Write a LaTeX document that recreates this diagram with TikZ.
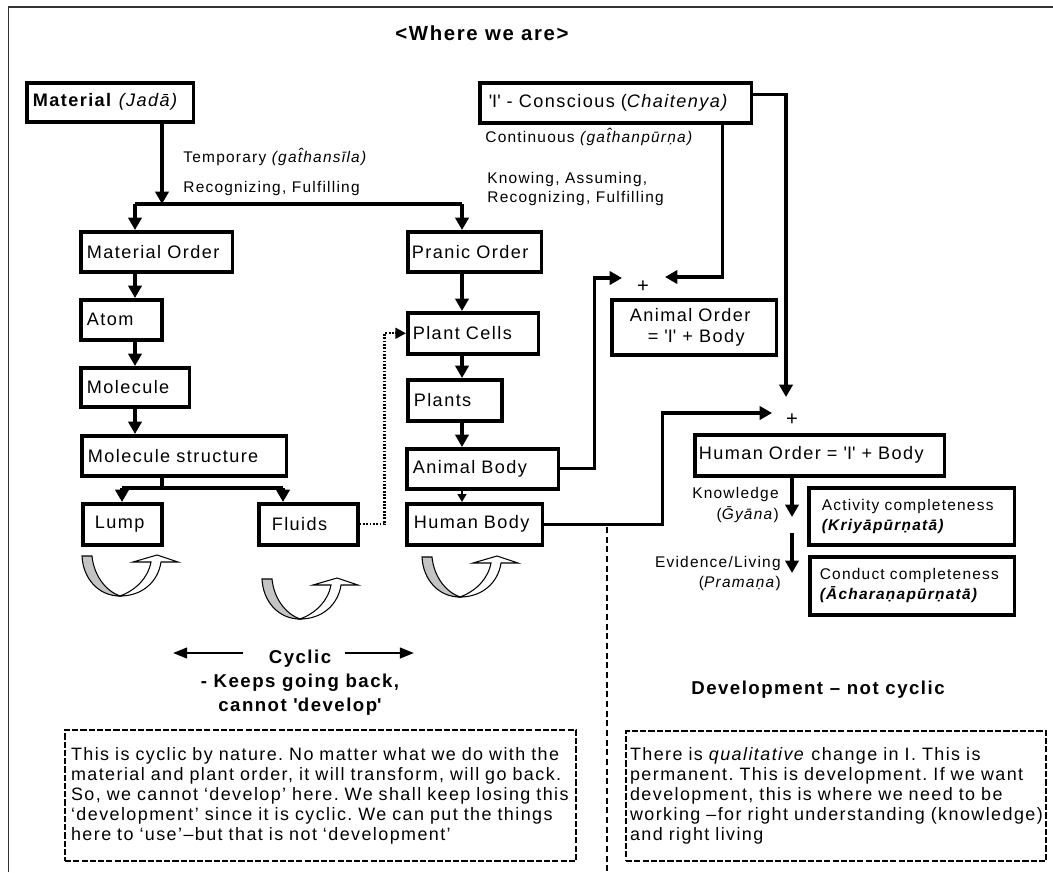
\documentclass[tikz,border=0pt]{standalone}
\usepackage{fontspec}
\setmainfont{Liberation Sans}[LetterSpace=8]
\usetikzlibrary{arrows.meta}
\definecolor{armgray}{RGB}{196,196,196}
\newcommand{\sqt}{\textquotesingle}

\begin{document}
\frenchspacing
\begin{tikzpicture}[x=0.02cm, y=-0.02cm,
    box/.style={draw, line width=2pt, anchor=north west, align=left, inner xsep=0.12cm, inner ysep=0pt, font=\fontsize{10.3}{12}\selectfont},
    lbl/.style={inner sep=0pt, align=left, font=\fontsize{8.8}{10.6}\selectfont},
    arr/.style={line width=1.9pt, -{Triangle[length=7pt,width=7.5pt]}},
    link/.style={line width=1.9pt},
    note/.style={draw, line width=1.2pt, dash pattern=on 3.5pt off 1.2pt, anchor=north west, align=left, inner xsep=0.12cm, font=\fontsize{10.2}{11.4}\selectfont},
    heading/.style={align=center, font=\bfseries\fontsize{10.6}{13.7}\selectfont},
    arm/.style={draw, line width=0.6pt, fill=armgray},
    armw/.style={draw, line width=0.6pt, fill=white}]
    \useasboundingbox (0,0) rectangle (1053,872);

    % Frame
    \draw[line width=0.85pt, black!80] (8.5,872) -- (8.5,7) -- (1053,7);

    % Title
    \node[heading, font=\bfseries\fontsize{11.6}{12}\selectfont] (title) at (482,33) {<Where we are>};

    % Two roots
    \node[box, minimum width=3.34cm, minimum height=0.78cm, text width=3.10cm] (mat) at (25,81) {\textbf{Material} \textit{(Jad\=a)}};
    \node[box, minimum width=5.44cm, minimum height=0.8cm, inner xsep=0.18cm, text width=5.08cm] (con) at (478,81) {\sqt I\sqt{} - Conscious (\textit{Chaitenya)}};

    \node[lbl, anchor=west] (temp) at (183,157) {Temporary \textit{(gat^^^^0302hans\={\i}la)}};
    \node[lbl, anchor=west] (recog) at (183,188) {Recognizing, Fulfilling};
    \node[lbl, anchor=west] (cont) at (485,137) {Continuous \textit{(gat^^^^0302hanp\=urn^^^^0323a)}};
    \node[lbl, anchor=west] (knowing) at (487,189) {Knowing, Assuming,\\Recognizing, Fulfilling};

    % Material order column
    \node[box, minimum width=3.04cm, minimum height=0.8cm, text width=2.80cm] (matorder) at (79,230) {Material Order};
    \node[box, minimum width=1.62cm, minimum height=0.8cm, text width=1.38cm] (atom) at (79,298) {Atom};
    \node[box, minimum width=2.18cm, minimum height=0.78cm, text width=1.94cm] (molecule) at (79,366) {Molecule};
    \node[box, minimum width=4.10cm, minimum height=0.8cm, text width=3.86cm] (molstruct) at (80,434) {Molecule structure};
    \node[box, minimum width=1.58cm, minimum height=0.82cm, inner xsep=0.24cm, text width=1.10cm] (lump) at (81,502) {Lump};
    \node[box, minimum width=1.98cm, minimum height=0.82cm, inner xsep=0.26cm, text width=1.46cm] (fluids) at (257,502) {Fluids};

    % Pranic order column
    \node[box, minimum width=2.68cm, minimum height=0.8cm, inner xsep=0.08cm, text width=2.52cm] (pranic) at (406,230) {Pranic Order};
    \node[box, minimum width=2.62cm, minimum height=0.82cm, inner xsep=0.1cm, text width=2.42cm] (cells) at (406,311) {Plant Cells};
    \node[box, minimum width=1.88cm, minimum height=0.82cm, text width=1.64cm] (plants) at (406,378) {Plants};
    \node[box, minimum width=3.04cm, minimum height=0.8cm, text width=2.80cm] (animalbody) at (405,447) {Animal Body};
    \node[box, minimum width=2.72cm, minimum height=0.82cm, inner xsep=0.14cm, text width=2.44cm] (humanbody) at (405,502) {Human Body};

    % Orders with 'I'
    \node[font=\fontsize{11.5}{11}\selectfont, inner sep=0pt] (aplus) at (643,287) {+};
    \node[box, minimum width=3.30cm, minimum height=1.10cm, inner xsep=0.36cm, text width=2.58cm] (animalorder) at (610,298) {Animal Order\\\quad= \sqt I\sqt{} + Body};
    \node[font=\fontsize{11.5}{11}\selectfont, inner sep=0pt] (hplus) at (792,420) {+};
    \node[box, minimum width=5.00cm, minimum height=0.82cm, inner xsep=0.08cm, text width=4.84cm] (humanorder) at (693,433) {Human Order = \sqt I\sqt{} + Body};
    \node[box, font=\fontsize{8.8}{11.4}\selectfont, minimum width=4.12cm, minimum height=1.14cm, inner xsep=0.26cm, text width=3.60cm] (activity) at (807,486) {Activity completeness\\\textbf{\textit{(Kriy\=ap\=urn^^^^0323at\=a)}}};
    \node[box, font=\fontsize{8.8}{11.4}\selectfont, minimum width=4.10cm, minimum height=1.16cm, inner xsep=0.2cm, text width=3.70cm] (conduct) at (808,555) {Conduct completeness\\\textbf{\textit{(\=Acharan^^^^0323ap\=urn^^^^0323at\=a)}}};
    \node[lbl, anchor=east, align=right, font=\fontsize{8.8}{11.4}\selectfont] (knowl) at (779,505) {Knowledge\\(\textit{G^^^^0304y\=ana})};
    \node[lbl, anchor=east, align=right, font=\fontsize{8.8}{11.4}\selectfont] (evid) at (781,573) {Evidence/Living\\(\textit{Praman^^^^0323a})};

    % Junctions
    \coordinate (split) at (162,204);
    \coordinate (splitL) at (135,204);
    \coordinate (splitR) at (462,204);
    \coordinate (branch) at (162,488);
    \coordinate (branchL) at (122,488);
    \coordinate (branchR) at (283,488);
    \coordinate (aplusL) at (622,278);
    \coordinate (aplusR) at (665,277);
    \coordinate (hplusT) at (786,397);
    \coordinate (hplusL) at (772,413);
    \coordinate (know1) at (792,517);
    \coordinate (evid0) at (792,533);
    \coordinate (evid1) at (792,573);

    % Material splits in two
    \draw[arr] (mat.south -| split) -- (split);
    \draw[link] (splitL) -- (splitR);
    \draw[arr] (splitL) -- (splitL |- matorder.north);
    \draw[arr] (splitR) -- (splitR |- pranic.north);

    \draw[arr] (matorder.south -| splitL) -- (atom.north -| splitL);
    \draw[arr] (atom.south -| splitL) -- (molecule.north -| splitL);
    \draw[arr] (molecule.south -| splitL) -- (molstruct.north -| splitL);
    \draw[link] (molstruct.south -| branch) -- (branch);
    \draw[link] (branchL) -- (branchR);
    \draw[arr] (branchL) -- (branchL |- lump.north);
    \draw[arr] (branchR) -- (branchR |- fluids.north);

    \draw[arr] (pranic.south -| splitR) -- (cells.north -| splitR);
    \draw[arr] (cells.south -| splitR) -- (plants.north -| splitR);
    \draw[arr] (plants.south -| splitR) -- (animalbody.north -| splitR);
    \draw[line width=1pt, -{Triangle[length=4.5pt,width=5pt]}] (animalbody.south -| splitR) -- (humanbody.north -| splitR);

    % Fluids feed plant cells
    \draw[line width=1.4pt, dash pattern=on 1pt off 0.9pt, -{Triangle[length=6pt,width=6pt]}] (fluids.east) -- ++(25,0) |- (cells.west);

    % Bodies meet 'I'
    \draw[arr] (animalbody.east) -- ++(34,0) |- (aplusL);
    \draw[arr] ([xshift=-0.62cm]con.south east) |- (aplusR);
    \draw[arr] ([yshift=0.16cm]con.east) -| (hplusT);
    \draw[arr] (humanbody.east) -- ++(118,0) |- (hplusL);

    \draw[arr] (humanorder.south -| know1) -- (know1);
    \draw[arr] (evid0) -- (evid1);

    % Cyclic arrows under the boxes
    \foreach \bx/\by in {120/596, 300/619, 460/597} {
        \begin{scope}[shift={(\bx,\by)}]
            \filldraw[arm] (0,0) .. controls (-22,0) and (-37,-18) .. (-38,-40) -- (-28,-40) .. controls (-26,-20) and (-14,-5) .. (0,0) -- cycle;
            \filldraw[armw] (0,0) .. controls (16,-6) and (28,-18) .. (31,-34) -- (13,-34) -- (37,-41) -- (58,-34) -- (41,-34) .. controls (38,-14) and (22,0) .. (0,0) -- cycle;
        \end{scope}
    }

    % Cyclic side
    \coordinate (cycL0) at (243,653);
    \coordinate (cycL1) at (173,653);
    \coordinate (cycR0) at (345,653);
    \coordinate (cycR1) at (414,653);
    \draw[line width=1.3pt, -{Triangle[length=8pt,width=6pt]}] (cycL0) -- (cycL1);
    \draw[line width=1.3pt, -{Triangle[length=8pt,width=6pt]}] (cycR0) -- (cycR1);
    \node[heading] (cyclic) at (300,683) {Cyclic\\- Keeps going back,\\cannot \sqt develop\sqt};
    \node[note, minimum width=10.22cm, minimum height=2.62cm, text width=9.98cm] (cnote) at (64,729)
        {This is cyclic by nature. No matter what we do with the\\material and plant order, it will transform, will go back.\\So, we cannot ‘develop’ here. We shall keep losing this\\‘development’ since it is cyclic. We can put the things\\here to ‘use’–but that is not ‘development’};

    % Divider
    \coordinate (divtop) at (607,527);
    \coordinate (divbot) at (607,872);
    \draw[line width=1.2pt, dash pattern=on 3.5pt off 2pt] (divtop) -- (divbot);

    % Development side
    \node[heading] (devel) at (818,690) {Development – not cyclic};
    \node[note, minimum width=8.4cm, minimum height=2.6cm, inner xsep=0.08cm, text width=8.24cm] (dnote) at (625,730)
        {There is \textit{qualitative} change in I. This is\\permanent. This is development. If we want\\development, this is where we need to be\\working –for right understanding (knowledge)\\and right living};
\end{tikzpicture}
\end{document}
